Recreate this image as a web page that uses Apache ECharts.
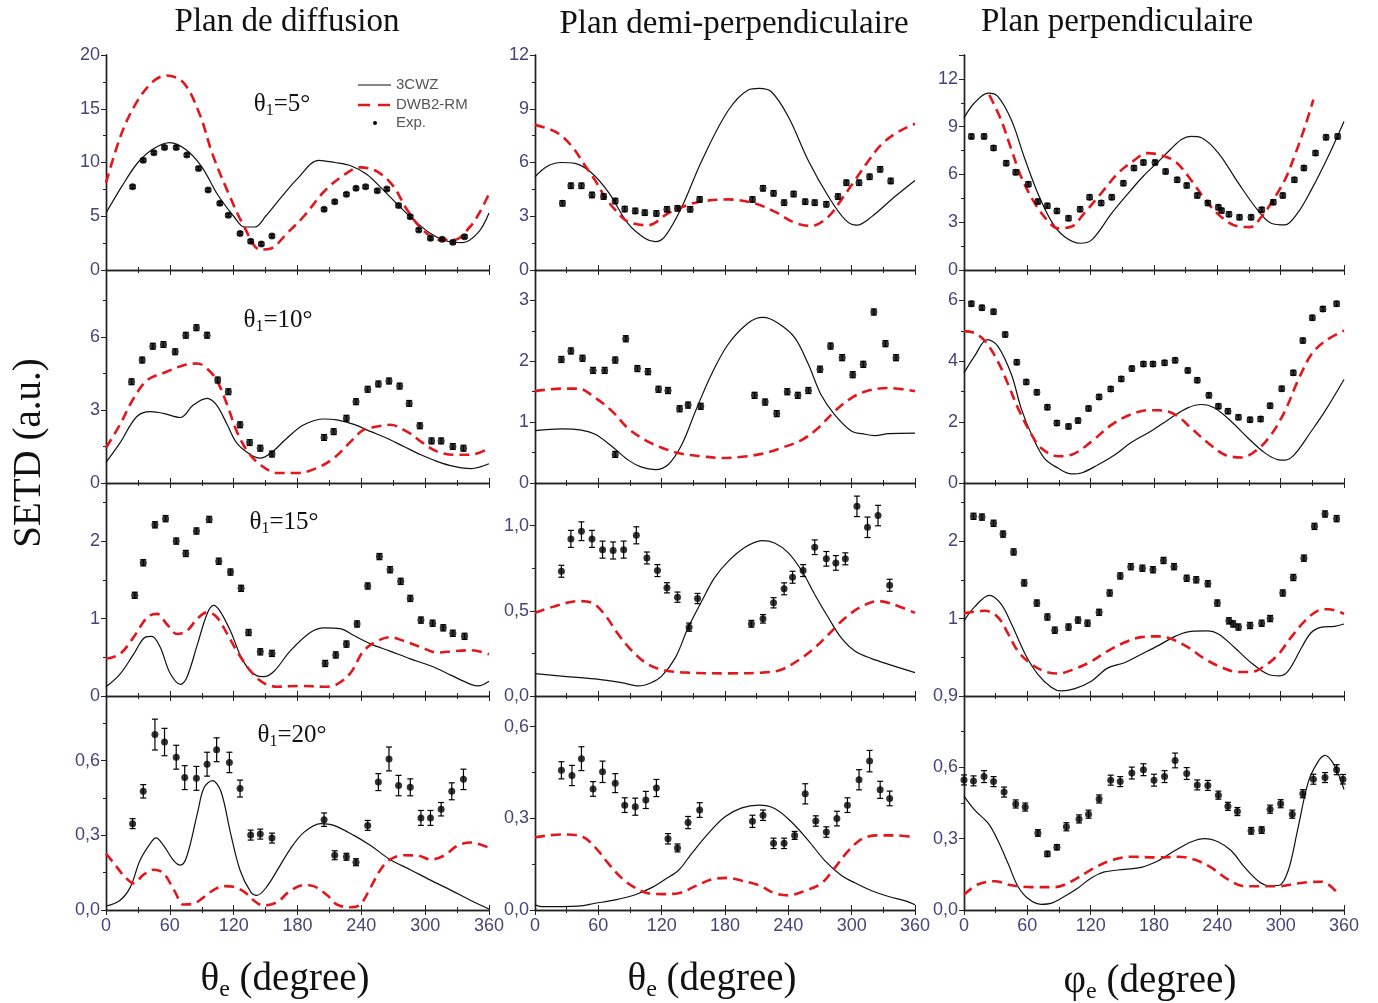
<!DOCTYPE html>
<html>
<head>
<meta charset="utf-8">
<title>SETD</title>
<script src="https://cdn.jsdelivr.net/npm/echarts@6/dist/echarts.min.js"></script>
<style>
html, body { margin: 0; padding: 0; background: #fff; }
#chart { width: 1378px; height: 1003px; }
</style>
</head>
<body>
<div id="chart"></div>
<script>
// ---- Plan de diffusion ----
const diff5_3cwz = [[0,5.3],[15,7.8],[30,10.0],[45,11.3],[60,11.85],[75,11.2],[90,9.6],[105,7.0],[120,5.0],[130,4.0],[140,4.0],[150,5.0],[165,6.8],[180,8.5],[200,10.2],[215,10.0],[230,9.7],[245,8.9],[260,7.5],[275,6.0],[290,4.6],[305,3.4],[320,2.7],[335,2.55],[350,3.5],[360,5.3]]
const diff5_dwb = [[0,8.1],[15,12.8],[30,15.8],[45,17.6],[57,18.1],[73,17.4],[88,14.5],[100,10.8],[114,7.4],[130,4.0],[145,1.9],[155,2.0],[170,3.4],[186,5.0],[205,7.3],[223,8.8],[239,9.55],[255,9.15],[270,7.8],[283,5.6],[298,3.7],[314,2.8],[327,2.8],[342,4.0],[352,5.5],[360,7.1]]
const diff5_exp = [[25,7.75],[35,10.2],[45,10.9],[55,11.4],[66,11.4],[76,10.7],[87,9.45],[96,7.45],[107,6.2],[115,5.1],[126,3.4],[136,2.67],[146,2.42],[156,3.16],[205,5.64],[215,6.36],[226,7.04],[235,7.6],[244,7.75],[255,7.38],[264,7.53],[275,6.0],[286,4.96],[294,3.72],[305,2.95],[316,2.85],[326,2.57],[337,3.1]]

const diff10_3cwz = [[0,0.85],[13,1.64],[29,2.73],[42,2.93],[54,2.86],[70,2.69],[82,3.2],[95,3.48],[104,3.2],[114,2.39],[123,1.64],[136,1.16],[145,1.02],[155,1.23],[170,1.84],[186,2.39],[205,2.63],[217,2.59],[233,2.41],[249,2.11],[264,1.84],[280,1.5],[296,1.16],[311,0.89],[327,0.68],[343,0.59],[360,0.79]]
const diff10_dwb = [[0,1.45],[13,2.39],[26,3.48],[39,4.23],[57,4.57],[73,4.84],[86,4.91],[95,4.7],[104,4.23],[114,3.2],[123,2.11],[133,1.3],[145,0.75],[161,0.41],[180,0.41],[198,0.61],[214,1.02],[230,1.7],[242,2.18],[255,2.32],[267,2.39],[283,2.11],[296,1.7],[311,1.3],[327,1.16],[343,1.16],[360,1.43]]
const diff10_exp = [[24,4.16],[34,5.05],[44,5.62],[54,5.69],[65,5.39],[75,6.07],[85,6.38],[95,6.07],[105,4.23],[115,3.75],[126,2.39],[135,1.66],[145,1.43],[156,1.19],[205,1.87],[214,2.11],[226,2.66],[235,3.34],[246,3.85],[256,4.07],[266,4.19],[276,3.98],[285,3.27],[295,2.35],[306,1.73],[315,1.73],[326,1.5],[336,1.43]]

const diff15_3cwz = [[0,0.12],[13,0.28],[26,0.54],[37,0.76],[43,0.77],[51,0.63],[60,0.3],[70,0.15],[76,0.24],[86,0.67],[95,1.06],[101,1.17],[107,1.1],[117,0.84],[129,0.45],[142,0.26],[148,0.25],[158,0.32],[173,0.58],[192,0.82],[205,0.88],[220,0.87],[233,0.78],[249,0.67],[267,0.58],[286,0.48],[305,0.39],[324,0.27],[343,0.15],[350,0.13],[360,0.19]]
const diff15_dwb = [[0,0.48],[13,0.54],[26,0.76],[39,1.02],[48,1.06],[57,0.93],[67,0.8],[76,0.84],[86,1.0],[95,1.08],[104,1.02],[114,0.8],[123,0.58],[136,0.32],[148,0.17],[161,0.12],[183,0.13],[205,0.12],[217,0.15],[230,0.3],[242,0.58],[255,0.71],[267,0.76],[280,0.71],[296,0.63],[311,0.56],[327,0.58],[343,0.59],[360,0.54]]
const diff15_exp = [[27,1.3],[35,1.72],[46,2.21],[56,2.29],[66,2.0],[75,1.84],[85,2.13],[97,2.28],[106,1.74],[117,1.6],[127,1.39],[134,0.82],[145,0.57],[156,0.55],[206,0.42],[216,0.53],[226,0.67],[236,0.93],[246,1.42],[257,1.8],[267,1.63],[277,1.48],[286,1.26],[296,0.98],[307,0.94],[317,0.88],[326,0.81],[337,0.77]]

const diff20_3cwz = [[0,0.015],[13,0.038],[23,0.093],[32,0.2],[42,0.27],[47,0.29],[54,0.26],[64,0.196],[70,0.18],[76,0.216],[86,0.39],[92,0.49],[100,0.52],[108,0.477],[117,0.31],[126,0.16],[136,0.073],[142,0.059],[151,0.093],[161,0.16],[173,0.244],[186,0.312],[202,0.347],[214,0.34],[233,0.3],[249,0.258],[267,0.203],[286,0.162],[305,0.12],[324,0.08],[343,0.038],[360,0.004]]
const diff20_dwb = [[0,0.227],[7,0.19],[17,0.137],[26,0.107],[35,0.141],[45,0.162],[54,0.148],[64,0.08],[73,0.022],[82,0.025],[92,0.052],[101,0.08],[111,0.096],[120,0.093],[130,0.073],[139,0.038],[148,0.018],[161,0.032],[173,0.077],[186,0.1],[195,0.096],[208,0.059],[217,0.022],[230,0.011],[239,0.022],[249,0.093],[258,0.162],[267,0.203],[280,0.22],[293,0.219],[305,0.203],[318,0.219],[330,0.258],[343,0.271],[360,0.25]]
const diff20_exp = [[25,0.347,0.02],[35,0.477,0.027],[46,0.705,0.062],[55,0.675,0.055],[66,0.614,0.048],[74,0.532,0.048],[85,0.529,0.048],[95,0.586,0.048],[104,0.644,0.048],[116,0.593,0.041],[126,0.488,0.034],[136,0.301,0.02],[145,0.305,0.02],[156,0.289,0.02],[205,0.363,0.027],[215,0.22,0.018],[226,0.214,0.014],[235,0.192,0.014],[246,0.34,0.02],[256,0.514,0.034],[266,0.607,0.048],[275,0.5,0.041],[286,0.493,0.034],[296,0.37,0.03],[305,0.37,0.03],[315,0.405,0.027],[325,0.477,0.034],[336,0.525,0.041]]

// ---- Plan demi-perpendiculaire ----
const demi5_3cwz = [[0,5.2],[12,5.8],[25,6.0],[38,5.95],[54,5.4],[70,4.3],[88,2.6],[104,1.77],[114,1.58],[123,1.86],[139,3.5],[158,6.1],[183,8.9],[202,10.05],[212,10.14],[224,9.95],[240,8.55],[259,6.1],[278,4.1],[294,2.8],[305,2.5],[319,2.98],[341,4.1],[360,5.0]]
const demi5_dwb = [[0,8.1],[20,7.7],[35,6.9],[46,5.95],[57,5.0],[66,4.1],[76,3.35],[88,2.7],[107,2.5],[126,3.16],[139,3.5],[155,3.8],[183,3.94],[208,3.72],[227,3.26],[246,2.64],[262,2.46],[278,2.98],[290,3.9],[303,5.0],[316,6.1],[328,7.0],[341,7.6],[357,8.1],[360,8.15]]
const demi5_exp = [[26,3.72],[34,4.7],[44,4.7],[54,4.19],[65,4.1],[76,3.85],[85,3.4],[95,3.3],[104,3.2],[115,3.16],[125,3.39],[135,3.44],[147,3.39],[156,3.94],[206,3.94],[216,4.56],[226,4.28],[236,3.76],[245,4.24],[256,3.81],[265,3.76],[276,3.67],[287,4.1],[295,4.87],[307,4.87],[317,5.2],[327,5.62],[337,4.97]]

const demi10_3cwz = [[0,0.86],[25,0.89],[44,0.87],[57,0.8],[73,0.6],[88,0.38],[101,0.26],[114,0.22],[126,0.3],[139,0.63],[152,1.18],[167,1.78],[183,2.28],[202,2.63],[216,2.72],[230,2.63],[246,2.39],[259,1.95],[271,1.45],[284,1.12],[300,0.85],[310,0.81],[322,0.78],[335,0.81],[360,0.82]]
const demi10_dwb = [[0,1.51],[25,1.55],[41,1.55],[57,1.4],[73,1.18],[88,0.9],[104,0.71],[120,0.58],[139,0.48],[158,0.44],[177,0.41],[196,0.43],[215,0.48],[234,0.58],[253,0.71],[268,0.9],[284,1.18],[300,1.4],[316,1.52],[335,1.56],[360,1.51]]
const demi10_exp = [[25,2.03],[34,2.17],[45,2.05],[55,1.85],[66,1.85],[76,2.02],[86,2.37],[97,1.88],[107,1.83],[117,1.54],[126,1.52],[137,1.22],[145,1.28],[157,1.26],[76,0.47],[208,1.44],[218,1.33],[229,1.14],[239,1.5],[249,1.44],[259,1.52],[270,1.87],[280,2.25],[291,2.06],[301,1.78],[311,1.95],[321,2.81],[332,2.29],[342,2.06]]

const demi15_3cwz = [[0,0.131],[25,0.117],[57,0.1],[82,0.078],[98,0.059],[110,0.078],[120,0.117],[133,0.225],[145,0.4],[158,0.557],[170,0.693],[183,0.79],[199,0.873],[215,0.912],[227,0.898],[240,0.84],[253,0.732],[265,0.596],[278,0.459],[290,0.342],[303,0.264],[319,0.219],[335,0.186],[360,0.137]]
const demi15_dwb = [[0,0.488],[19,0.527],[41,0.557],[54,0.547],[66,0.478],[79,0.361],[92,0.264],[107,0.186],[123,0.15],[145,0.137],[183,0.133],[215,0.137],[234,0.156],[253,0.225],[265,0.283],[278,0.361],[294,0.459],[310,0.527],[325,0.557],[338,0.541],[360,0.488]]
const demi15_exp = [[25,0.732,0.035],[34,0.922,0.05],[44,0.967,0.055],[54,0.922,0.05],[64,0.859,0.05],[74,0.854,0.05],[84,0.859,0.05],[96,0.943,0.05],[106,0.81,0.035],[116,0.736,0.035],[125,0.635,0.03],[135,0.58,0.03],[146,0.404,0.024],[154,0.572,0.03],[205,0.424,0.02],[216,0.453,0.025],[226,0.547,0.03],[236,0.629,0.035],[244,0.697,0.035],[254,0.736,0.035],[265,0.873,0.043],[276,0.805,0.043],[285,0.781,0.043],[294,0.805,0.035],[305,1.113,0.06],[315,0.99,0.06],[325,1.059,0.06],[336,0.65,0.035]]

const demi20_3cwz = [[0,0.017],[6,0.011],[41,0.013],[57,0.022],[76,0.033],[95,0.05],[111,0.074],[123,0.1],[136,0.13],[148,0.183],[164,0.25],[180,0.305],[196,0.334],[212,0.343],[227,0.332],[243,0.288],[259,0.227],[275,0.16],[291,0.111],[303,0.089],[319,0.063],[335,0.044],[351,0.03],[360,0.017]]
const demi20_dwb = [[0,0.238],[25,0.247],[44,0.241],[57,0.205],[70,0.15],[82,0.105],[95,0.072],[107,0.055],[120,0.052],[136,0.055],[152,0.078],[167,0.1],[183,0.105],[196,0.096],[212,0.081],[227,0.055],[240,0.048],[256,0.063],[272,0.089],[284,0.138],[297,0.194],[310,0.233],[325,0.244],[341,0.244],[360,0.238]]
const demi20_exp = [[25,0.457,0.028],[35,0.44,0.033],[44,0.495,0.039],[55,0.396,0.024],[64,0.452,0.035],[76,0.415,0.031],[85,0.343,0.024],[95,0.338,0.028],[105,0.36,0.028],[115,0.399,0.028],[126,0.233,0.017],[135,0.203,0.013],[145,0.286,0.02],[156,0.327,0.024],[206,0.29,0.02],[216,0.31,0.017],[226,0.218,0.017],[236,0.218,0.017],[246,0.244,0.013],[256,0.38,0.033],[266,0.291,0.017],[276,0.255,0.017],[286,0.299,0.024],[296,0.343,0.024],[307,0.426,0.033],[317,0.487,0.035],[327,0.393,0.028],[336,0.365,0.024]]

// ---- Plan perpendiculaire ----
const perp5_3cwz = [[0,9.55],[10,10.5],[23,11.1],[32,10.9],[45,9.4],[57,7.1],[70,4.8],[83,3.04],[95,2.1],[110,1.68],[121,1.89],[140,3.57],[158,5.0],[170,5.9],[184,6.8],[196,7.6],[206,8.2],[215,8.39],[225,8.3],[241,7.34],[260,5.45],[278,3.78],[291,2.94],[304,2.83],[316,3.57],[329,5.03],[345,7.13],[360,9.33]]
const perp5_dwb = [[24,11.0],[35,9.44],[45,7.55],[54,5.87],[67,4.2],[80,3.04],[89,2.62],[102,2.73],[114,3.57],[130,4.82],[146,6.08],[162,6.92],[173,7.34],[185,7.24],[200,6.82],[215,5.66],[231,4.2],[247,3.15],[260,2.73],[271,2.69],[282,3.36],[291,4.2],[304,5.66],[313,7.13],[323,9.0],[331,10.7]]
const perp5_exp = [[7,8.39],[19,8.39],[28,7.66],[40,6.71],[49,6.13],[61,5.39],[70,4.3],[79,4.03],[88,3.71],[99,3.25],[110,3.82],[119,4.57],[130,4.2],[140,4.57],[151,5.45],[161,6.4],[170,6.75],[181,6.75],[191,6.19],[202,5.66],[211,5.31],[221,4.68],[231,4.2],[241,3.94],[244,3.73],[251,3.5],[261,3.31],[272,3.31],[282,3.78],[293,4.26],[302,4.68],[313,5.66],[322,6.4],[333,7.34],[343,8.33],[354,8.39]]

const perp10_3cwz = [[0,3.62],[10,4.17],[22,4.71],[32,4.5],[45,3.56],[54,2.47],[64,1.59],[76,0.82],[89,0.49],[102,0.3],[111,0.33],[127,0.6],[143,0.93],[158,1.32],[177,1.7],[196,2.14],[212,2.47],[225,2.58],[237,2.47],[253,2.03],[269,1.48],[285,0.99],[297,0.77],[304,0.75],[313,0.93],[329,1.7],[342,2.36],[360,3.4]]
const perp10_dwb = [[0,4.99],[10,4.93],[20,4.66],[32,4.0],[42,3.23],[51,2.47],[64,1.59],[73,1.15],[89,0.88],[102,0.93],[121,1.37],[140,1.92],[158,2.25],[174,2.39],[184,2.39],[200,2.25],[215,1.81],[231,1.32],[247,0.93],[263,0.84],[278,1.1],[291,1.59],[304,2.36],[316,3.34],[329,4.22],[342,4.66],[360,5.01]]
const perp10_exp = [[7,5.89],[17,5.76],[28,5.63],[39,4.88],[50,3.97],[59,3.32],[69,2.98],[79,2.49],[88,1.97],[99,1.86],[108,2.05],[118,2.45],[128,2.83],[139,3.09],[149,3.42],[159,3.76],[170,3.91],[179,3.91],[190,3.95],[200,4.03],[212,3.7],[221,3.38],[232,2.88],[241,2.52],[250,2.36],[260,2.16],[271,2.08],[281,2.1],[290,2.54],[301,3.1],[312,3.62],[321,4.68],[330,5.43],[340,5.72],[353,5.89]]

const perp15_3cwz = [[0,0.97],[10,1.15],[24,1.3],[35,1.19],[45,0.93],[58,0.54],[70,0.28],[83,0.11],[92,0.065],[105,0.095],[121,0.195],[136,0.36],[152,0.43],[168,0.54],[184,0.65],[200,0.77],[215,0.835],[231,0.84],[241,0.8],[256,0.63],[272,0.43],[288,0.28],[299,0.26],[307,0.32],[320,0.63],[329,0.82],[339,0.89],[351,0.9],[360,0.93]]
const perp15_dwb = [[0,1.07],[20,1.1],[32,1.02],[42,0.8],[51,0.58],[64,0.41],[76,0.32],[89,0.29],[105,0.35],[121,0.45],[136,0.58],[152,0.69],[168,0.76],[184,0.77],[196,0.74],[212,0.63],[228,0.48],[244,0.37],[260,0.31],[272,0.31],[285,0.39],[298,0.54],[310,0.76],[323,0.97],[335,1.1],[345,1.12],[360,1.06]]
const perp15_exp = [[9,2.32],[17,2.31],[28,2.23],[37,2.09],[47,1.86],[57,1.46],[69,1.2],[79,1.02],[86,0.85],[99,0.89],[108,0.98],[117,0.94],[128,1.08],[138,1.33],[148,1.55],[158,1.67],[169,1.65],[179,1.63],[189,1.75],[199,1.67],[211,1.52],[220,1.5],[231,1.45],[240,1.2],[251,0.97],[255,0.93],[260,0.89],[271,0.91],[282,0.94],[290,1.0],[302,1.33],[312,1.53],[322,1.78],[332,2.19],[342,2.35],[353,2.29]]

const perp20_3cwz = [[0,0.479],[10,0.421],[23,0.364],[32,0.293],[42,0.193],[51,0.1],[61,0.047],[73,0.024],[83,0.029],[95,0.057],[108,0.093],[121,0.136],[133,0.16],[152,0.171],[168,0.179],[184,0.207],[200,0.25],[215,0.286],[228,0.3],[241,0.286],[253,0.25],[266,0.179],[279,0.121],[288,0.103],[298,0.103],[307,0.164],[316,0.336],[326,0.536],[335,0.621],[342,0.65],[351,0.607],[360,0.507]]
const perp20_dwb = [[0,0.064],[13,0.107],[29,0.121],[45,0.104],[64,0.096],[86,0.096],[102,0.121],[121,0.171],[140,0.21],[159,0.224],[184,0.221],[203,0.224],[219,0.211],[234,0.179],[250,0.129],[266,0.1],[282,0.1],[298,0.1],[313,0.11],[326,0.117],[339,0.119],[354,0.071]]
const perp20_exp = [[0,0.547,0.021],[9,0.543,0.021],[19,0.561,0.025],[28,0.54,0.021],[38,0.496,0.021],[49,0.446,0.017],[58,0.433,0.017],[70,0.324,0.014],[79,0.236,0.011],[88,0.264,0.011],[97,0.35,0.017],[109,0.383,0.017],[118,0.403,0.017],[128,0.467,0.017],[139,0.546,0.021],[148,0.54,0.021],[159,0.576,0.025],[170,0.59,0.025],[180,0.546,0.025],[190,0.561,0.025],[200,0.629,0.031],[211,0.574,0.025],[221,0.526,0.021],[231,0.524,0.021],[241,0.483,0.017],[250,0.436,0.017],[259,0.414,0.017],[272,0.333,0.014],[282,0.336,0.014],[290,0.424,0.017],[300,0.447,0.017],[311,0.403,0.017],[321,0.489,0.017],[331,0.55,0.021],[342,0.557,0.021],[353,0.59,0.021],[359,0.55,0.02]]

// panels row by row: [3CWZ, DWB2-RM, Exp.]
const panels = [
  [diff5_3cwz, diff5_dwb, diff5_exp], [demi5_3cwz, demi5_dwb, demi5_exp], [perp5_3cwz, perp5_dwb, perp5_exp],
  [diff10_3cwz, diff10_dwb, diff10_exp], [demi10_3cwz, demi10_dwb, demi10_exp], [perp10_3cwz, perp10_dwb, perp10_exp],
  [diff15_3cwz, diff15_dwb, diff15_exp], [demi15_3cwz, demi15_dwb, demi15_exp], [perp15_3cwz, perp15_dwb, perp15_exp],
  [diff20_3cwz, diff20_dwb, diff20_exp], [demi20_3cwz, demi20_dwb, demi20_exp], [perp20_3cwz, perp20_dwb, perp20_exp]
]
const yMax = [20, 12, 13.5, 8.75, 3.5, 7, 2.75, 1.25, 2.75, 0.86, 0.7, 0.9]
const yStep = [5, 3, 3, 3, 1, 2, 1, 0.5, 1, 0.3, 0.3, 0.3]
// error half-width where the point list has none
const expErr = [0.15, 0.15, 0.15, 0.12, 0.05, 0.08, 0.04, 0, 0.04, 0, 0, 0]

const colLeft = [106, 535, 964]
const colWidth = [383, 380, 380]
const rowTop = [55, 270, 483, 696]
const rowHeight = [215, 213, 213, 214]

const RED = '#e3161c'
const LABEL = '#45457a'
const frame = { show: true, lineStyle: { color: '#222', width: 1.4 } }

const grids = []
const xAxes = []
const yAxes = []
const series = []

panels.forEach((p, i) => {
  const r = Math.floor(i / 3)
  const c = i % 3
  const comma = i === 7 || i >= 9
  grids.push({ left: colLeft[c], top: rowTop[r], width: colWidth[c], height: rowHeight[r], containLabel: false, outerBoundsMode: 'none' })

  const xBase = {
    gridIndex: i, type: 'value', min: 0, max: 360, interval: 60,
    axisLine: frame, splitLine: { show: false },
    axisTick: { show: true, inside: true, length: 5, lineStyle: { color: '#222' } },
    minorTick: { show: true, splitNumber: 2, length: 3, lineStyle: { color: '#222' } }
  }
  xAxes.push(Object.assign({}, xBase, {
    position: 'bottom',
    axisLabel: { show: r === 3, color: LABEL, fontSize: 18, fontFamily: 'Liberation Sans', margin: 7 }
  }))
  xAxes.push(Object.assign({}, xBase, { position: 'top', axisLabel: { show: false } }))

  const yBase = {
    gridIndex: i, type: 'value', min: 0, max: yMax[i], interval: yStep[i],
    axisLine: frame, splitLine: { show: false }
  }
  yAxes.push(Object.assign({}, yBase, {
    position: 'left',
    axisTick: { show: false },
    axisLabel: {
      color: LABEL, fontSize: 18, fontFamily: 'Liberation Sans', margin: 6,
      showMaxLabel: i === 0 || i === 1 || i === 11,
      showMinLabel: i !== 8,
      formatter: v => comma ? v.toFixed(1).replace('.', ',') : String(+v.toFixed(2))
    }
  }))
  yAxes.push(Object.assign({}, yBase, {
    position: 'right',
    axisLabel: { show: false },
    axisTick: { show: true, inside: true, length: 5, lineStyle: { color: '#222' } },
    minorTick: { show: true, splitNumber: 2, length: 3, lineStyle: { color: '#222' } }
  }))

  const ax = { xAxisIndex: 2 * i, yAxisIndex: 2 * i }
  series.push(Object.assign({
    name: '3CWZ', type: 'line', data: p[0], showSymbol: false, smooth: 0.35,
    lineStyle: { color: '#111', width: 1.2 }, z: 2
  }, ax))
  series.push(Object.assign({
    name: 'DWB2-RM', type: 'line', data: p[1], showSymbol: false, smooth: 0.35,
    lineStyle: { color: RED, width: 2.6, type: [10, 6] }, z: 2
  }, ax))
  series.push(Object.assign({
    name: 'Exp.', type: 'custom', z: 4,
    data: p[2].map(d => [d[0], d[1], d.length > 2 ? d[2] : expErr[i]]),
    encode: { x: 0, y: 1 },
    renderItem: (params, api) => {
      const x = api.value(0), y = api.value(1), e = api.value(2)
      const lo = api.coord([x, y - e]), hi = api.coord([x, y + e])
      const st = { stroke: '#000', lineWidth: 1.2 }
      return {
        type: 'group', children: [
          { type: 'line', shape: { x1: lo[0], y1: lo[1], x2: hi[0], y2: hi[1] }, style: st },
          { type: 'line', shape: { x1: lo[0] - 3, y1: lo[1], x2: lo[0] + 3, y2: lo[1] }, style: st },
          { type: 'line', shape: { x1: hi[0] - 3, y1: hi[1], x2: hi[0] + 3, y2: hi[1] }, style: st }
        ]
      }
    }
  }, ax))
  series.push(Object.assign({
    name: 'Exp.', type: 'scatter', data: p[2].map(d => [d[0], d[1]]),
    symbol: 'circle', symbolSize: 7, itemStyle: { color: '#000' }, z: 5
  }, ax))
})

const serif = '"Liberation Serif", "DejaVu Serif", serif'
function txt(x, y, text, size, extra) {
  return Object.assign({
    type: 'text', x: x, y: y, silent: true,
    style: {
      text: text, font: size + 'px ' + serif, fill: '#111',
      align: 'center', verticalAlign: 'middle', textAlign: 'center', textVerticalAlign: 'middle'
    }
  }, extra || {})
}
function subTxt(x, y, base, sub, rest, size) {
  return {
    type: 'text', x: x, y: y, silent: true,
    style: {
      text: '{a|' + base + '}{b|' + sub + '}{a|' + rest + '}',
      align: 'center', verticalAlign: 'middle', textAlign: 'center', textVerticalAlign: 'middle',
      fill: '#111',
      rich: {
        a: { fontSize: size, fontFamily: serif, fill: '#111' },
        b: { fontSize: Math.round(size * 0.62), fontFamily: serif, fill: '#111', padding: [Math.round(size * 0.5), 0, 0, 0] }
      }
    }
  }
}

const legendFont = '15px "Liberation Sans"'
const graphics = [
  txt(287, 22, 'Plan de diffusion', 33),
  txt(734, 24, 'Plan demi-perpendiculaire', 33),
  txt(1117, 22, 'Plan perpendiculaire', 33),
  txt(30, 453, 'SETD (a.u.)', 39, { rotation: Math.PI / 2 }),
  subTxt(285, 980, 'θ', 'e', ' (degree)', 39),
  subTxt(712, 980, 'θ', 'e', ' (degree)', 39),
  subTxt(1150, 982, 'φ', 'e', ' (degree)', 39),
  subTxt(282, 104, 'θ', '1', '=5°', 25),
  subTxt(278, 320, 'θ', '1', '=10°', 25),
  subTxt(284, 522, 'θ', '1', '=15°', 25),
  subTxt(292, 735, 'θ', '1', '=20°', 25),
  // legend
  { type: 'line', silent: true, shape: { x1: 358, y1: 85, x2: 391, y2: 85 }, style: { stroke: '#111', lineWidth: 1.2 } },
  { type: 'line', silent: true, shape: { x1: 358, y1: 105, x2: 391, y2: 105 }, style: { stroke: RED, lineWidth: 2.6, lineDash: [12, 8] } },
  { type: 'circle', silent: true, shape: { cx: 375, cy: 123, r: 2 }, style: { fill: '#000' } },
  { type: 'text', x: 396, y: 85, style: { text: '3CWZ', font: legendFont, fill: '#555', verticalAlign: 'middle', textVerticalAlign: 'middle' } },
  { type: 'text', x: 396, y: 105, style: { text: 'DWB2-RM', font: legendFont, fill: '#555', verticalAlign: 'middle', textVerticalAlign: 'middle' } },
  { type: 'text', x: 396, y: 123, style: { text: 'Exp.', font: legendFont, fill: '#555', verticalAlign: 'middle', textVerticalAlign: 'middle' } }
]

const chart = echarts.init(document.getElementById('chart'), null, { renderer: 'canvas' })
chart.setOption({
  backgroundColor: '#fff',
  animation: false,
  grid: grids,
  xAxis: xAxes,
  yAxis: yAxes,
  series: series,
  graphic: graphics
})
</script>
</body>
</html>
